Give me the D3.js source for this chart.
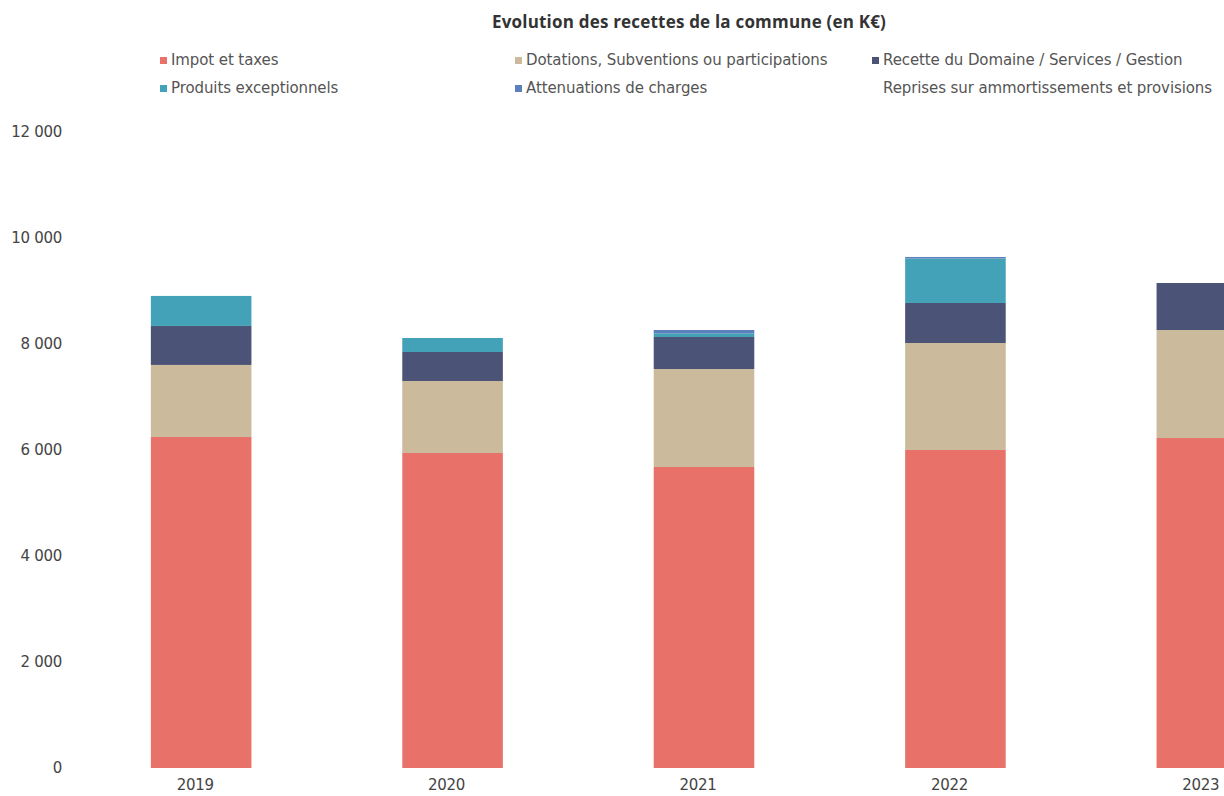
<!DOCTYPE html>
<html>
<head>
<meta charset="utf-8">
<script src="https://cdn.jsdelivr.net/npm/d3@7"></script>
<style>
  body { margin: 0; background: #fff; overflow: hidden; }
  svg { display: block; }
  .tick text { font-family: "DejaVu Sans", sans-serif; fill: #444; }
</style>
</head>
<body>
<div id="chart"></div>
<script>
var width = 1224,
    height = 796;

// donnees (K€)
var years = ["2019", "2020", "2021", "2022", "2023"];
var impot = [6245, 5943, 5679, 6000, 6226];
var dotations = [1360, 1359, 1849, 2019, 2038];
var recette = [736, 547, 604, 755, 887];
var produits = [566, 264, 70, 838, 0];
var attenuations = [0, 0, 62, 30, 0];
var reprises = [0, 0, 0, 0, 0];

var seriesNames = ["Impot et taxes", "Dotations, Subventions ou participations",
    "Recette du Domaine / Services / Gestion", "Produits exceptionnels",
    "Attenuations de charges", "Reprises sur ammortissements et provisions"];
var seriesValues = [impot, dotations, recette, produits, attenuations, reprises];
var colors = ["#e8716a", "#cbba9b", "#4b5376", "#43a2b7", "#5b80bd", "#ffffff"];
var yTicks = [0, 2000, 4000, 6000, 8000, 10000, 12000];

var rows = years.map(function (y, i) {
    var r = {year: y};
    seriesNames.forEach(function (s, k) { r[s] = seriesValues[k][i]; });
    return r;
});

var stack = d3.stack().keys(seriesNames)(rows);

var svg = d3.select("#chart").append("svg")
    .attr("width", width)
    .attr("height", height);

var x = d3.scaleBand()
    .domain(years)
    .range([0, 1408])
    .padding(0.6);

var y = d3.scaleLinear()
    .domain([0, 12000])
    .range([768, 132]);

// titre
svg.append("text")
    .attr("x", 689)
    .attr("y", 28)
    .attr("text-anchor", "middle")
    .style("font-family", "Open Sans, sans-serif")
    .style("font-weight", "700")
    .style("font-size", "17px")
    .style("letter-spacing", "0.2px")
    .style("fill", "#333")
    .text("Evolution des recettes de la commune (en K€)");

// legende
var legendPos = [[160, 60], [515, 60], [872, 60], [160, 88], [515, 88], [872, 88]];
var legend = svg.append("g").selectAll("g")
    .data(seriesNames)
    .enter().append("g")
    .attr("transform", function (d, i) { return "translate(" + legendPos[i][0] + "," + legendPos[i][1] + ")"; });

legend.append("rect")
    .attr("x", 0)
    .attr("y", -3)
    .attr("width", 7)
    .attr("height", 7)
    .attr("fill", function (d, i) { return colors[i]; });

legend.append("text")
    .attr("x", 11)
    .attr("dy", "0.35em")
    .style("font-family", "DejaVu Sans, sans-serif")
    .style("font-size", "15px")
    .style("letter-spacing", "-0.1px")
    .style("fill", "#555")
    .text(function (d) { return d; });

// barres
svg.append("g").selectAll("g")
    .data(stack)
    .enter().append("g")
    .attr("fill", function (d, i) { return colors[i]; })
    .selectAll("rect")
    .data(function (d) { return d; })
    .enter().append("rect")
    .attr("x", function (d) { return x(d.data.year); })
    .attr("y", function (d) { return y(d[1]); })
    .attr("width", x.bandwidth())
    .attr("height", function (d) { return y(d[0]) - y(d[1]); });

// axes
var yAxis = svg.append("g")
    .attr("transform", "translate(62,0)")
    .call(d3.axisLeft(y).tickValues(yTicks).tickSize(0).tickPadding(0)
        .tickFormat(function (d) { return d3.format(",")(d).replace(",", " "); }));
yAxis.select(".domain").remove();
yAxis.selectAll("text").style("font-size", "15px").style("letter-spacing", "-0.3px");

var xAxis = svg.append("g")
    .attr("transform", "translate(0,768)")
    .call(d3.axisBottom(x).tickSize(0).tickPadding(11));
xAxis.select(".domain").remove();
xAxis.selectAll("text").style("font-size", "15px").style("letter-spacing", "-0.3px")
    .attr("dx", "-6px");
</script>
</body>
</html>
